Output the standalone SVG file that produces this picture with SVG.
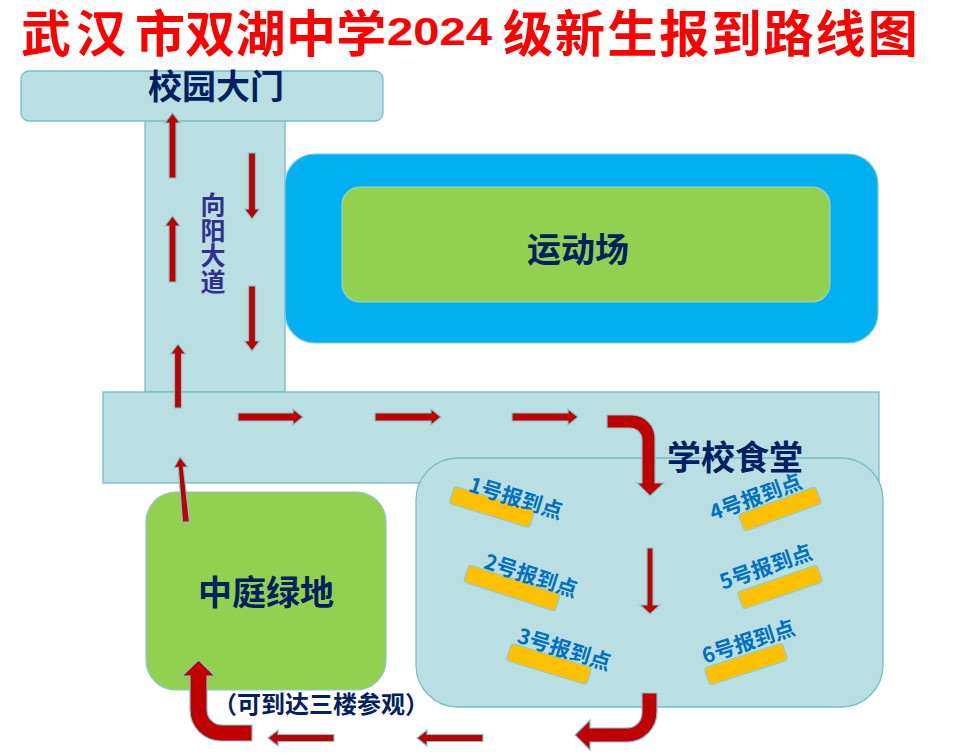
<svg xmlns="http://www.w3.org/2000/svg" width="963" height="755" viewBox="0 0 963 755">
<style>
.road{fill:#B9DFE3;stroke:#74BEC8;stroke-width:1.3}
.lbl{font-family:"Noto Sans CJK SC","Noto Sans",sans-serif;font-weight:bold;fill:#002060;text-anchor:middle}
.ttl{font-family:"Noto Sans CJK SC",sans-serif;font-weight:bold;font-size:50px}
.arr{fill:#C00000;stroke:#80C6CE;stroke-width:1.2;stroke-linejoin:miter}
.pt rect{fill:#FFC000;stroke:#8ACDD3;stroke-width:1.2}
.pt text{font-family:"Noto Sans CJK SC","Noto Sans",sans-serif;font-weight:bold;font-size:21px;fill:#0070C0}
</style>
<rect width="963" height="755" fill="#FFFFFF"/>
<g id="title" fill="#FF0000">
<text class="ttl" x="21" y="52" letter-spacing="5">武汉</text>
<text class="ttl" x="135" y="52" letter-spacing="0.3">市双湖中学</text>
<text font-family="'Liberation Sans',Arial,sans-serif" font-weight="bold" font-size="39" x="387" y="45" textLength="105" lengthAdjust="spacingAndGlyphs">2024</text>
<text class="ttl" x="503" y="52" letter-spacing="2.1">级新生报到路线图</text>
</g>
<g id="road-vertical">
<rect class="road" x="145" y="110" width="140" height="282"/>
<text x="213" y="192" writing-mode="vertical-rl" letter-spacing="0.5" font-family="'Noto Sans CJK SC',sans-serif" font-weight="bold" font-size="25" fill="#2E3192">向阳大道</text>
</g>
<g id="gate">
<rect class="road" x="21" y="71" width="362" height="50" rx="8"/>
<text class="lbl" x="216" y="99" font-size="34">校园大门</text>
</g>
<g id="sports-field">
<rect x="285" y="154" width="593" height="189" rx="30" fill="#00B0F0" stroke="#86C9D6" stroke-width="1.2"/>
<rect x="342" y="187" width="488" height="115" rx="18" fill="#92D050" stroke="#9CCFCF" stroke-width="1.2"/>
<text class="lbl" x="578" y="262" font-size="34">运动场</text>
</g>
<g id="road-horizontal">
<rect class="road" x="103" y="392" width="776" height="91"/>
</g>
<g id="cafeteria">
<rect class="road" x="416" y="458" width="467" height="249" rx="42"/>
<text class="lbl" x="735" y="470" font-size="34">学校食堂</text>
</g>
<g id="courtyard">
<rect x="146" y="492" width="240" height="198" rx="30" fill="#92D050" stroke="#8CC8D0" stroke-width="1.2"/>
<text class="lbl" x="266" y="605" font-size="34">中庭绿地</text>
</g>
<g id="point1" class="pt" transform="translate(492,507) rotate(17)">
<rect x="-42" y="-9" width="84" height="18" rx="3"/>
<text x="-28" y="-8">1号报到点</text>
</g>
<g id="point2" class="pt" transform="translate(512,588) rotate(18)">
<rect x="-48" y="-9" width="96" height="18" rx="3"/>
<text x="-34" y="-10">2号报到点</text>
</g>
<g id="point3" class="pt" transform="translate(549,664) rotate(17)">
<rect x="-42" y="-9" width="84" height="18" rx="3"/>
<text x="-38" y="-11">3号报到点</text>
</g>
<g id="point4" class="pt" transform="translate(780,509) rotate(-20)">
<rect x="-41" y="-9" width="82" height="18" rx="3"/>
<text x="-67" y="-12">4号报到点</text>
</g>
<g id="point5" class="pt" transform="translate(780,587) rotate(-19)">
<rect x="-42" y="-9" width="84" height="18" rx="3"/>
<text x="-55" y="-16">5号报到点</text>
</g>
<g id="point6" class="pt" transform="translate(746,664) rotate(-18)">
<rect x="-41" y="-9" width="82" height="18" rx="3"/>
<text x="-39" y="-13">6号报到点</text>
</g>
<g id="note">
<text class="lbl" x="321" y="713" font-size="24">（可到达三楼参观）</text>
</g>
<g id="connectors">
<polygon class="arr" points="169,178 169,123 165,123 172.5,113 180,123 176,123 176,178"/>
<polygon class="arr" points="169,282 169,226 165,226 172.5,216 180,226 176,226 176,282"/>
<polygon class="arr" points="174.5,408 174.5,354 170.5,354 178,344 185.5,354 181.5,354 181.5,408"/>
<polygon class="arr" points="248.5,153 248.5,209 244.5,209 252,219 259.5,209 255.5,209 255.5,153"/>
<polygon class="arr" points="248.5,286 248.5,341 244.5,341 252,351 259.5,341 255.5,341 255.5,286"/>
<polygon class="arr" points="238,413 293,413 293,409 303,417 293,425 293,421 238,421"/>
<polygon class="arr" points="375,413 431,413 431,409 441,417 431,425 431,421 375,421"/>
<polygon class="arr" points="512,413 568,413 568,409 578,417 568,425 568,421 512,421"/>
<path class="arr" d="M607,415 L632,415 A23,23 0 0 1 655,438 L655,483 L664,483 L650,496 L637,483 L642,483 L642,440 A12,12 0 0 0 630,428 L607,428 Z"/>
<polygon class="arr" points="647,548 647,605 640,605 650,614 660,605 653,605 653,548"/>
<path class="arr" d="M642,693 L657,693 L657,712 A30,30 0 0 1 627,742 L590,742 L590,750 L575,735 L590,720 L590,728 L627,728 A15,15 0 0 0 642,713 Z"/>
<polygon class="arr" points="483,734.5 427,734.5 427,730 417,738 427,746 427,741.5 483,741.5"/>
<polygon class="arr" points="334,734.5 278,734.5 278,730 268,738 278,746 278,741.5 334,741.5"/>
<path class="arr" d="M252,725 L222,725 A15,15 0 0 1 207,710 L207,676 L215,676 L198.5,660 L182,676 L190,676 L190,710 A31,31 0 0 0 221,741 L252,741 Z"/>
<polygon class="arr" points="182.5,522.2 178.3,467.5 173.8,467.9 180,457 187.7,466.8 183.3,467.1 189.5,521.8"/>
</g>
</svg>
